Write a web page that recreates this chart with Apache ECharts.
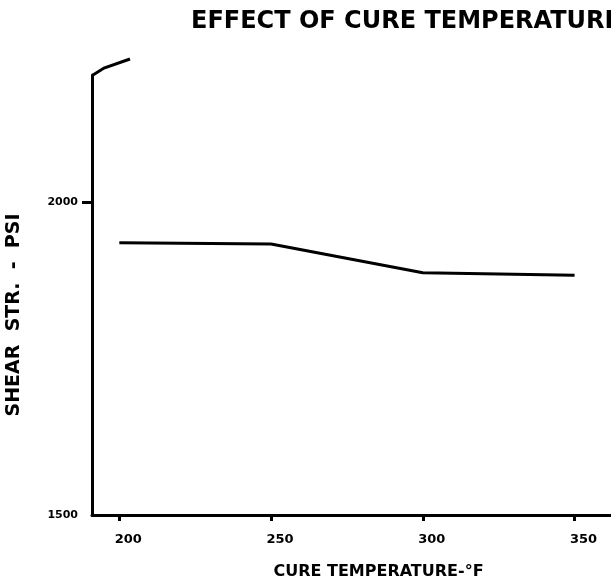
<!DOCTYPE html>
<html>
<head>
<meta charset="utf-8">
<style>
  html, body { margin: 0; padding: 0; background: #fff; }
  #chart { width: 611px; height: 585px; }
</style>
<script src="https://cdn.jsdelivr.net/npm/echarts@6/dist/echarts.min.js"></script>
</head>
<body>
<div id="chart"></div>
<script>
// Cure temperature (°F) and resulting shear strength (psi)
const cureTemps = [200, 250, 300, 350];
const shearStrength = [1935, 1933, 1887, 1883];

// Axis tick labels
const xTickValues = [200, 250, 300, 350];
const yTickValues = [1500, 2000];

const chart = echarts.init(document.getElementById('chart'), null, { renderer: 'canvas' });

const ink = '#000';
const letterFont = 'DejaVu Sans';

chart.setOption({
  backgroundColor: '#fff',
  animation: false,
  title: {
    text: 'EFFECT OF CURE TEMPERATURE',
    left: 186,
    top: 5,
    textStyle: { fontFamily: letterFont, fontWeight: 'bold', fontSize: 24, color: ink }
  },
  grid: { left: 92, right: 0, top: 75, bottom: 70, containLabel: false, outerBoundsMode: 'none' },
  xAxis: {
    type: 'value',
    min: 191,
    max: 362,
    name: 'CURE TEMPERATURE-°F',
    nameLocation: 'middle',
    nameGap: 49,
    nameTextStyle: { fontFamily: letterFont, fontWeight: 'bold', fontSize: 16, color: ink, padding: [0, 0, 0, 54] },
    axisLine: { show: true, lineStyle: { color: ink, width: 3 } },
    axisTick: { show: true, customValues: xTickValues, length: 6, lineStyle: { color: ink, width: 3 } },
    axisLabel: {
      customValues: xTickValues,
      formatter: v => String(v),
      fontFamily: letterFont, fontWeight: 'bold', fontSize: 13, color: ink,
      margin: 18, padding: [0, 0, 0, 18]
    },
    splitLine: { show: false }
  },
  yAxis: {
    type: 'value',
    min: 1500,
    max: 2203,
    name: 'SHEAR  STR.  -  PSI',
    nameLocation: 'middle',
    nameRotate: 90,
    nameGap: 68,
    nameTextStyle: { fontFamily: letterFont, fontWeight: 'bold', fontSize: 19, color: ink, padding: [0, 40, 0, 0] },
    axisLine: { show: true, lineStyle: { color: ink, width: 3 } },
    axisTick: { show: true, customValues: [2000], length: 10, lineStyle: { color: ink, width: 3 } },
    axisLabel: {
      customValues: yTickValues,
      formatter: v => String(v),
      fontFamily: letterFont, fontWeight: 'bold', fontSize: 11, color: ink,
      margin: 14
    },
    splitLine: { show: false }
  },
  graphic: [
    {
      // flick at the top of the vertical axis
      type: 'polyline',
      shape: { points: [[93, 75], [104, 68], [130, 59]] },
      style: { stroke: ink, lineWidth: 3, fill: null }
    }
  ],
  series: [
    {
      type: 'line',
      data: cureTemps.map((t, i) => [t, shearStrength[i]]),
      showSymbol: false,
      lineStyle: { color: ink, width: 3 },
      z: 3
    }
  ]
});
</script>
</body>
</html>
